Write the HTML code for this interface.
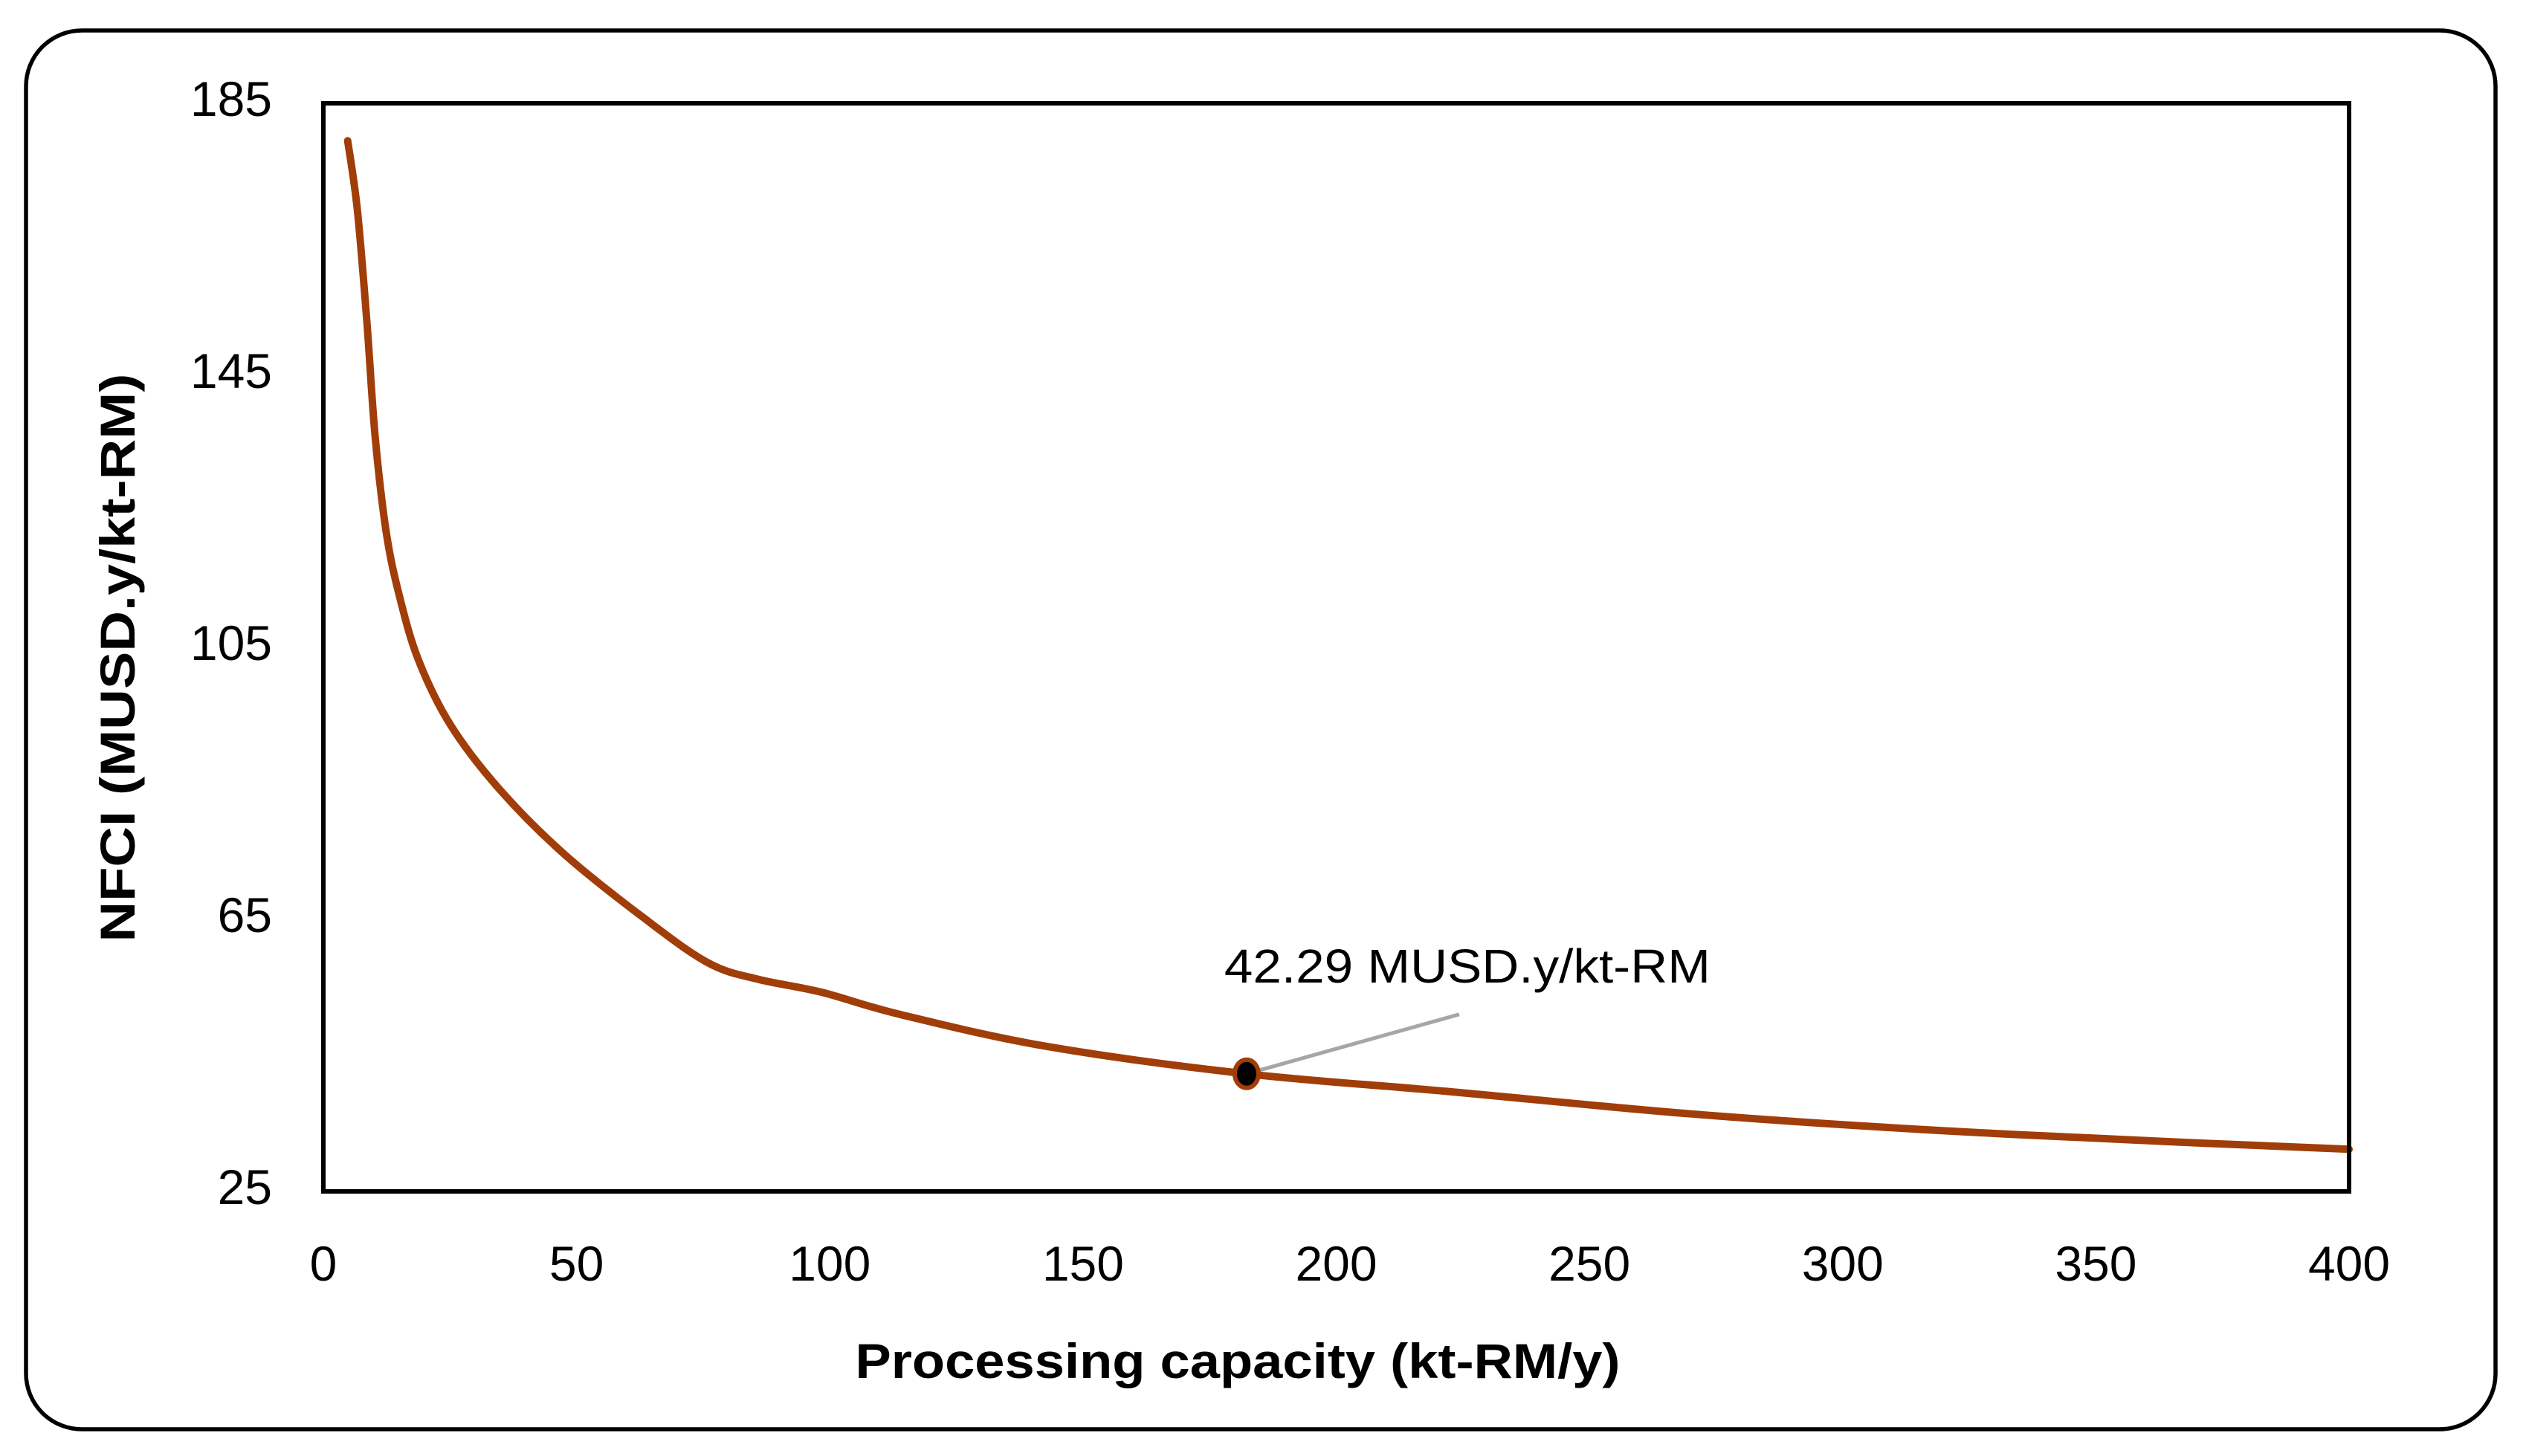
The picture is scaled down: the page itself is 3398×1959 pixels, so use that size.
<!DOCTYPE html>
<html><head><meta charset="utf-8"><style>
html,body{margin:0;padding:0;background:#fff;}
svg{display:block;}
text{font-family:"Liberation Sans",sans-serif;fill:#000;}
</style></head><body>
<svg id="chart" width="3398" height="1959" viewBox="0 0 3398 1959" xmlns="http://www.w3.org/2000/svg">
<rect x="35" y="41" width="3322" height="1882" rx="75" ry="75" fill="#fff" stroke="#000" stroke-width="5.5"/>
<g id="grid"></g>
<g id="series"></g>
<rect x="435" y="139" width="2725" height="1464" fill="none" stroke="#000" stroke-width="6"/>
<g id="axes"></g>
<text x="158" y="885" font-size="66" font-weight="bold" text-anchor="middle" transform="rotate(-90 158 885)" dominant-baseline="central" textLength="765" lengthAdjust="spacingAndGlyphs">NFCI (MUSD.y/kt-RM)</text>
<text x="1665" y="1831" font-size="66" font-weight="bold" text-anchor="middle" dominant-baseline="central" textLength="1029" lengthAdjust="spacingAndGlyphs">Processing capacity (kt-RM/y)</text>
</svg>
<script>
const xTicks = [0, 50, 100, 150, 200, 250, 300, 350, 400];
const yTicks = [25, 65, 105, 145, 185];
const capacity = [4.8, 6.7, 8.6, 10.2, 12.4, 15, 18.8, 25.1, 34.7, 47.4, 63.3, 76, 85.8, 98.3, 114, 143, 182.3, 222, 270, 318, 365, 400];
const nfci = [179.5, 169.4, 152.8, 136.2, 122, 112.6, 103.1, 93.6, 84.2, 74.7, 65.2, 58.6, 56.2, 54.3, 51, 46.3, 42.29, 39.7, 36.4, 34, 32.3, 31.2];
const markerX = [182.3];
const markerY = [42.29];
const markerLabel = ["42.29 MUSD.y/kt-RM"];

const L = 435, R = 3160, T = 139, B = 1603;
const xMin = 0, xMax = 400, yMin = 25, yMax = 185;
const sx = v => L + (v - xMin) / (xMax - xMin) * (R - L);
const sy = v => B - (v - yMin) / (yMax - yMin) * (B - T);
const NS = "http://www.w3.org/2000/svg";
const axes = document.getElementById('axes');
const series = document.getElementById('series');

xTicks.forEach(v => {
  const t = document.createElementNS(NS, 'text');
  t.setAttribute('x', sx(v)); t.setAttribute('y', 1700);
  t.setAttribute('font-size', '66'); t.setAttribute('text-anchor', 'middle');
  t.setAttribute('dominant-baseline', 'central'); t.setAttribute('fill', '#222');
  t.textContent = v;
  
  
  axes.appendChild(t);
});
yTicks.forEach(v => {
  const t = document.createElementNS(NS, 'text');
  t.setAttribute('x', 366); t.setAttribute('y', sy(v) - 6);
  t.setAttribute('font-size', '66'); t.setAttribute('text-anchor', 'end');
  t.setAttribute('dominant-baseline', 'central'); t.setAttribute('fill', '#222');
  t.textContent = v;
  
  
  axes.appendChild(t);
});

const pts = capacity.map((c, i) => [sx(c), sy(nfci[i])]);
let d = `M${pts[0][0]},${pts[0][1]}`;
for (let i = 0; i < pts.length - 1; i++) {
  const p0 = pts[i - 1] || pts[i], p1 = pts[i], p2 = pts[i + 1], p3 = pts[i + 2] || p2;
  const c1 = [p1[0] + (p2[0] - p0[0]) / 6, p1[1] + (p2[1] - p0[1]) / 6];
  const c2 = [p2[0] - (p3[0] - p1[0]) / 6, p2[1] - (p3[1] - p1[1]) / 6];
  d += ` C${c1[0]},${c1[1]} ${c2[0]},${c2[1]} ${p2[0]},${p2[1]}`;
}
const path = document.createElementNS(NS, 'path');
path.setAttribute('d', d); path.setAttribute('fill', 'none');
path.setAttribute('stroke', '#a13d08'); path.setAttribute('stroke-width', '10');
path.setAttribute('stroke-linecap', 'round'); path.setAttribute('stroke-linejoin', 'round');


series.appendChild(path);

markerX.forEach((mx, i) => {
  const cx = sx(mx), cy = sy(markerY[i]);
  const ln = document.createElementNS(NS, 'line');
  ln.setAttribute('x1', cx); ln.setAttribute('y1', cy);
  ln.setAttribute('x2', cx + 286); ln.setAttribute('y2', cy - 80);
  ln.setAttribute('stroke', '#a6a6a6'); ln.setAttribute('stroke-width', '5');
  
  
  series.appendChild(ln);
  const c = document.createElementNS(NS, 'ellipse');
  c.setAttribute('cx', cx); c.setAttribute('cy', cy);
  c.setAttribute('rx', 16); c.setAttribute('ry', 19);
  c.setAttribute('fill', '#000'); c.setAttribute('stroke', '#a13d08'); c.setAttribute('stroke-width', '6');
  
  
  series.appendChild(c);
  const t = document.createElementNS(NS, 'text');
  t.setAttribute('x', cx + 297); t.setAttribute('y', cy - 145);
  t.setAttribute('font-size', '64'); t.setAttribute('text-anchor', 'middle');
  t.setAttribute('dominant-baseline', 'central');
  t.setAttribute('textLength', '654'); t.setAttribute('lengthAdjust', 'spacingAndGlyphs');
  t.textContent = markerLabel[i];
  
  
  series.appendChild(t);
});
</script>
</body></html>
